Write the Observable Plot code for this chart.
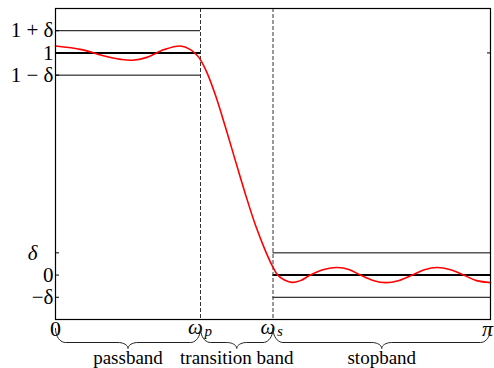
<!DOCTYPE html>
<html>
<head>
<meta charset="utf-8">
<script src="https://cdn.jsdelivr.net/npm/d3@7"></script>
<script src="https://cdn.jsdelivr.net/npm/@observablehq/plot@0.6"></script>
<style>
  html, body { margin: 0; padding: 0; background: #fff; }
</style>
</head>
<body>
<div id="chart"></div>
<script>
// ---- data ----
const delta = 0.1;
const omegaP = Math.PI / 3;
const omegaS = Math.PI / 2;
const omegaMax = Math.PI;

// filter response (omega as a fraction of pi)
const omegaFrac = [0, 0.06, 0.11, 0.15, 0.177, 0.21, 0.25, 0.287, 0.3103, 0.3264, 0.3333,
  0.3494, 0.3678, 0.3908, 0.4138, 0.4368, 0.4598, 0.4828, 0.5011, 0.5103, 0.5264, 0.5441,
  0.563, 0.586, 0.617, 0.648, 0.676, 0.701, 0.73, 0.759, 0.79, 0.82, 0.848, 0.877,
  0.908, 0.938, 0.968, 1.0];
const response = [1.031, 1.015, 0.987, 0.971, 0.967, 0.980, 1.015, 1.031, 1.015, 0.987, 0.969,
  0.906, 0.809, 0.665, 0.513, 0.363, 0.224, 0.108, 0.031, 0.001, -0.022, -0.033,
  -0.025, 0, 0.025, 0.034, 0.024, 0, -0.024, -0.034, -0.024, 0, 0.024, 0.034,
  0.024, 0, -0.025, -0.034];

const passLevels = [1 + delta, 1, 1 - delta];
const stopLevels = [delta, 0, -delta];
const yTickValues = [1 + delta, 1, 1 - delta, delta, 0, -delta];
const yTickLabels = ["1 + δ", "1", "1 − δ", "δ", "0", "−δ"];
const xTickValues = [0, omegaP, omegaS, omegaMax];
const xTickLabels = ["0", "ω", "ω", "π"];
const xSubLabels = ["p", "s"];
const bandNames = ["passband", "transition band", "stopband"];
const bandEdges = [0, omegaP, omegaS, omegaMax];

// ---- layout ----
const W = 494, H = 368;
const mTop = 8, mRight = 4, mBottom = 49, mLeft = 55;
const yDomain = [-0.2, 1.2];
const xDomain = [0, Math.PI];
const yPerPx = (yDomain[1] - yDomain[0]) / (H - mTop - mBottom);
const xPerPx = (xDomain[1] - xDomain[0]) / (W - mLeft - mRight);
const serif = "'Liberation Serif', 'DejaVu Serif', serif";

const curve = omegaFrac.map((f, i) => ({x: f * Math.PI, y: response[i]}));

const bands = bandNames.map((name, i) => ({name, a: bandEdges[i], b: bandEdges[i + 1], mid: (bandEdges[i] + bandEdges[i + 1]) / 2}));

// braces below the axis (geometry built from band edges)
function bracePoints(band, k) {
  const yAt = px => yDomain[0] - px * yPerPx;
  const top = 9, mid = 23, tip = 29;
  const r = Math.min(10 * xPerPx, (band.b - band.a) / 4);
  const m = band.mid, a = band.a, b = band.b;
  const pts = [];
  const n = 10;
  for (let i = 0; i <= n; i++) { const t = i / n * Math.PI / 2;
    pts.push({x: a + r * (1 - Math.cos(t)), y: yAt(top + (mid - top) * Math.sin(t)), k}); }
  for (let i = 0; i <= n; i++) { const t = i / n * Math.PI / 2;
    pts.push({x: m - r + r * Math.sin(t), y: yAt(mid + (tip - mid) * (1 - Math.cos(t))), k}); }
  for (let i = 0; i <= n; i++) { const t = i / n * Math.PI / 2;
    pts.push({x: m + r * (1 - Math.cos(t)), y: yAt(tip - (tip - mid) * Math.sin(t)), k}); }
  for (let i = 0; i <= n; i++) { const t = i / n * Math.PI / 2;
    pts.push({x: b - r + r * Math.sin(t), y: yAt(mid - (mid - top) * (1 - Math.cos(t))), k}); }
  return pts;
}
const braces = bands.flatMap((b, k) => bracePoints(b, k));

const labelOf = v => yTickLabels[yTickValues.indexOf(v)];
const xLabelOf = v => xTickLabels[xTickValues.indexOf(v)];

const chart = Plot.plot({
  width: W, height: H,
  marginTop: mTop, marginRight: mRight, marginBottom: mBottom, marginLeft: mLeft,
  style: {fontFamily: serif, color: "black", background: "white"},
  x: {domain: xDomain, axis: null},
  y: {domain: yDomain, axis: null},
  marks: [
    // inward ticks
    Plot.axisY({anchor: "left", ticks: yTickValues, tickSize: -4, tickFormat: () => "", label: null, strokeWidth: 1}),
    Plot.axisY({anchor: "right", ticks: [1], tickSize: -4, tickFormat: () => "", label: null, strokeWidth: 1}),
    // y labels
    Plot.axisY({anchor: "left", ticks: yTickValues.filter(v => v !== delta), tickSize: 0, tickPadding: 2,
      tickFormat: labelOf, label: null, fontSize: 21, fontFamily: serif}),
    Plot.axisY({anchor: "left", ticks: [delta], tickSize: 0, tickPadding: 18,
      tickFormat: labelOf, label: null, fontSize: 21, fontFamily: serif, fontStyle: "italic"}),
    // x labels
    Plot.axisX({anchor: "bottom", ticks: [0], tickSize: 0, tickPadding: 1,
      tickFormat: xLabelOf, label: null, fontSize: 22, fontFamily: serif}),
    Plot.axisX({anchor: "bottom", ticks: [omegaMax], tickSize: 0, tickPadding: 1, dx: -3,
      tickFormat: xLabelOf, label: null, fontSize: 22, fontFamily: serif, fontStyle: "italic"}),
    Plot.axisX({anchor: "bottom", ticks: [omegaP, omegaS], tickSize: 0, tickPadding: 0, dx: -5,
      tickFormat: xLabelOf, label: null, fontSize: 21, fontFamily: serif, fontStyle: "italic"}),
    Plot.text(xSubLabels, {x: [omegaP, omegaS], text: d => d, frameAnchor: "bottom", dy: 16, dx: 4,
      textAnchor: "start", fontSize: 15, fontFamily: serif, fontStyle: "italic"}),
    // passband / stopband tolerance lines
    Plot.ruleY(passLevels, {x1: 0, x2: omegaP, stroke: "black", strokeWidth: d => d === 1 ? 2 : 1}),
    Plot.ruleY(stopLevels, {x1: omegaS, x2: omegaMax, stroke: "black", strokeWidth: d => d === 0 ? 2 : 1}),
    // band edges
    Plot.ruleX([omegaP, omegaS], {stroke: "#333", strokeWidth: 1, strokeDasharray: "4,2"}),
    // response curve
    Plot.line(curve, {x: "x", y: "y", stroke: "red", strokeWidth: 1.6, curve: "catmull-rom"}),
    Plot.frame({stroke: "black", strokeWidth: 1.2}),
    // braces and band labels
    Plot.line(braces, {x: "x", y: "y", z: "k", stroke: "#222", strokeWidth: 1}),
    Plot.text(bands, {x: "mid", text: "name", frameAnchor: "bottom", dy: 44, fontSize: 19, fontFamily: serif})
  ]
});
document.getElementById("chart").appendChild(chart);
</script>
</body>
</html>
